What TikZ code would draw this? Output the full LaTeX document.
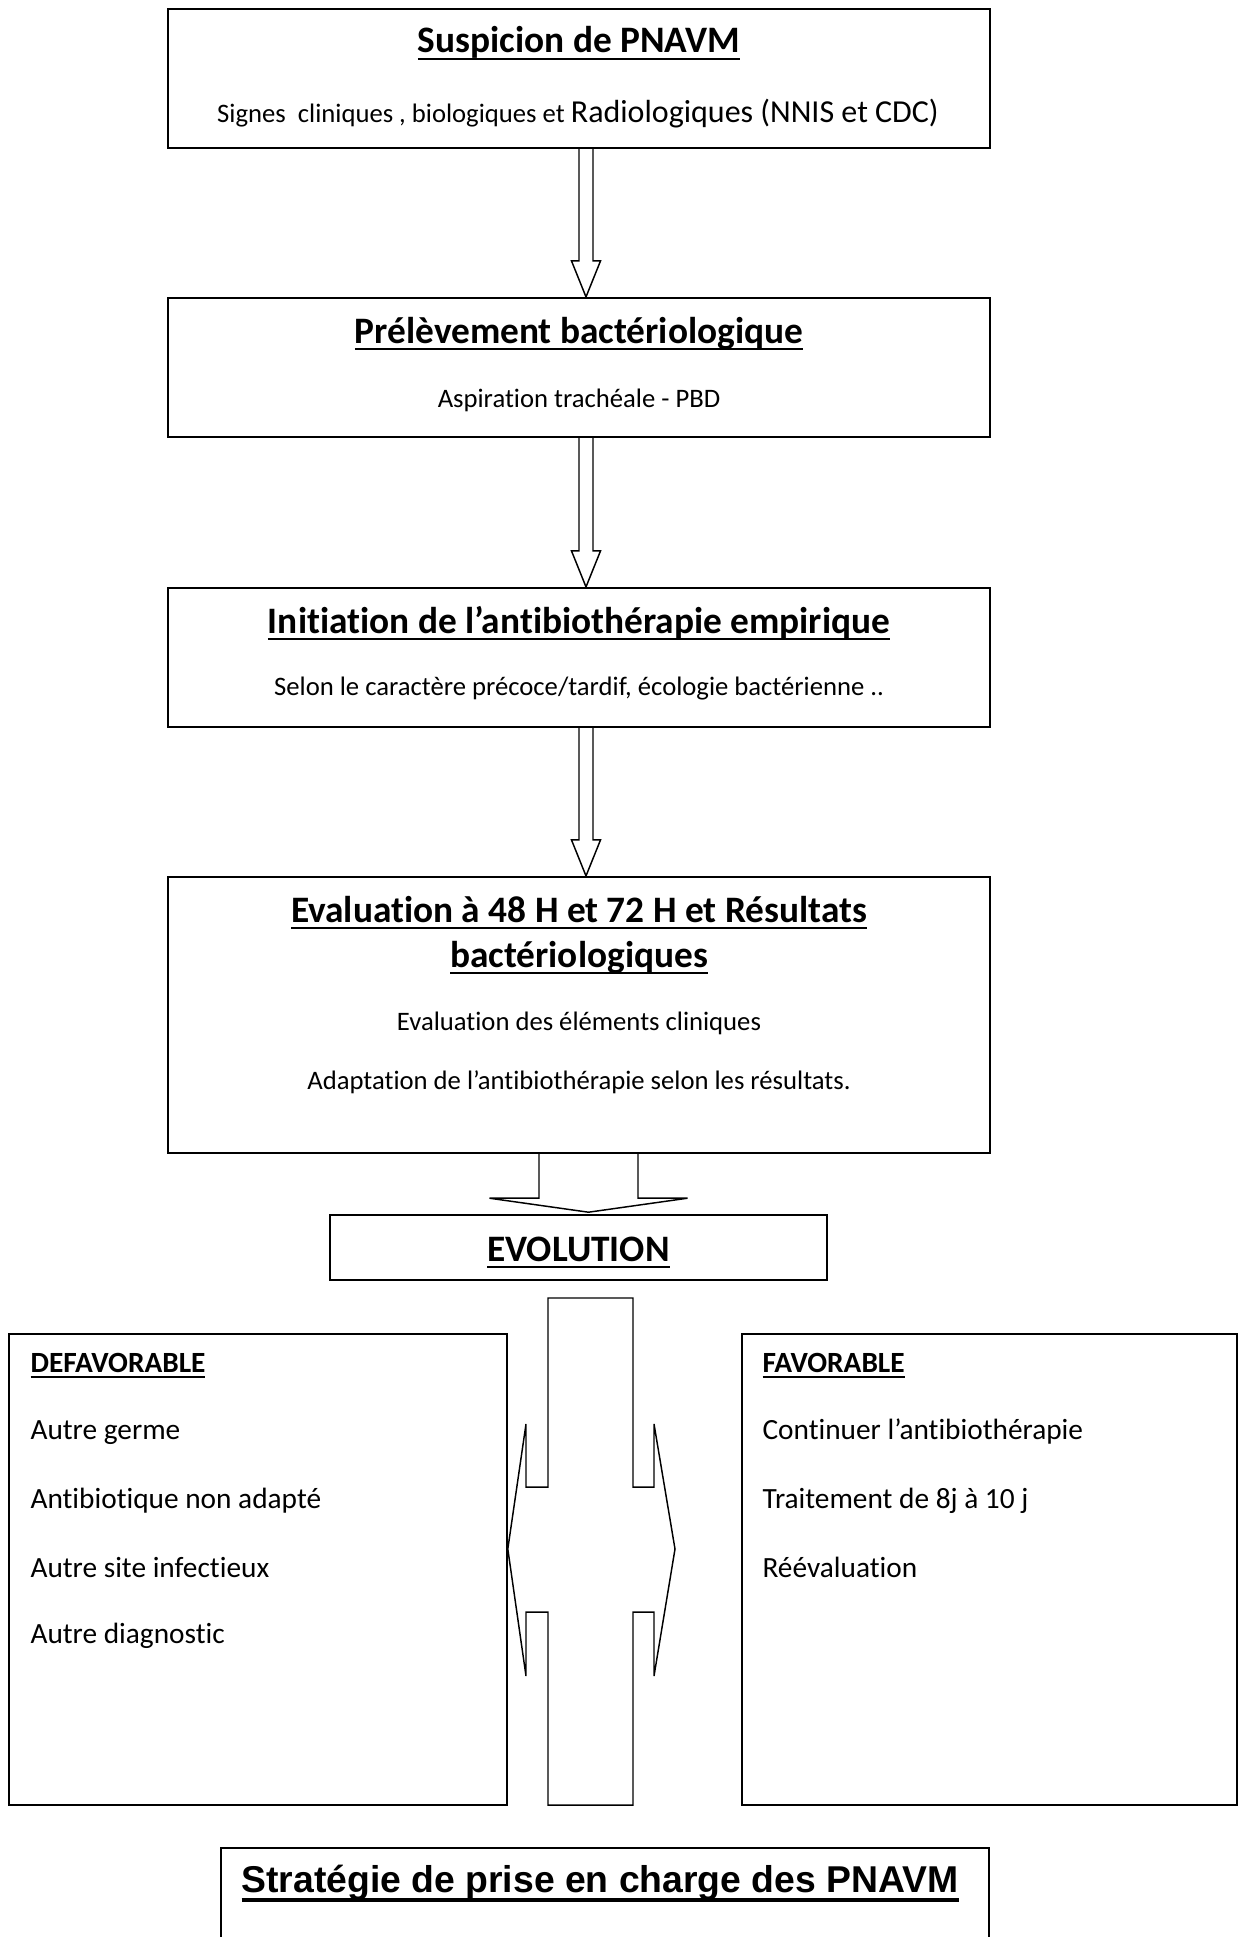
\documentclass[tikz,border=0pt]{standalone}
\usepackage{fontspec}
\setmainfont{Carlito}[Ligatures=NoCommon]
\newfontfamily\arialfont{Liberation Sans}
\usetikzlibrary{calc,fit}
\newcommand{\myul}[3]{\sbox0{#3}\rlap{\rule[-#1]{\wd0}{#2}}\usebox0}
\newcommand{\ulc}[1]{\myul{0.19em}{0.055em}{#1}}
\newcommand{\ula}[1]{\myul{0.27em}{0.1em}{#1}}
\begin{document}
\begin{tikzpicture}[x=0.375pt,y=-0.375pt,
  mainbox/.style={draw, line width=0.8pt, inner sep=0pt},
  subbox/.style={draw, line width=0.6pt, inner sep=0pt},
  blk/.style={draw, line width=0.55pt, line join=miter},
  ttl/.style={anchor=base, inner sep=0pt, font=\bfseries\fontsize{14}{17}\selectfont},
  sub/.style={anchor=base, inner sep=0pt, font=\fontsize{10}{12}\selectfont},
  item/.style={anchor=base west, inner sep=0pt, font=\fontsize{11}{13}\selectfont},
  itemttl/.style={anchor=base west, inner sep=0pt, font=\bfseries\fontsize{11}{13}\selectfont}]
\useasboundingbox (0,0) rectangle (1239,1937);

% boxes
\node[mainbox, fit={(168,9) (990,148)}] (b1) {};
\node[mainbox, fit={(168,298) (990,437)}] (b2) {};
\node[mainbox, fit={(168,588) (990,727)}] (b3) {};
\node[mainbox, fit={(168,877) (990,1153)}] (b4) {};
\node[subbox, fit={(330,1215) (827,1280)}] (evo) {};
\node[subbox, fit={(9,1334) (507,1805)}] (def) {};
\node[subbox, fit={(742,1334) (1237,1805)}] (fav) {};
\node[subbox, fit={(221,1848) (989,1990)}] (strat) {};

% texts
\node[ttl] (t1) at (579,53) {\ulc{Suspicion de PNAVM}};
\node[anchor=base, inner sep=0pt] (s1) at (578,122) {\fontsize{10}{12}\selectfont Signes~ cliniques , biologiques et \fontsize{12}{14}\selectfont Radiologiques (NNIS et CDC)};

\node[ttl] (t2) at (579,343) {\ulc{Prélèvement bactériologique}};
\node[sub] (s2) at (579,407) {Aspiration trachéale - PBD};

\node[ttl] (t3) at (579,633) {\ulc{Initiation de l’antibiothérapie empirique}};
\node[sub] (s3) at (579,695) {Selon le caractère précoce/tardif, écologie bactérienne ..};

\node[ttl] (t4a) at (579,922) {\ulc{Evaluation à 48 H et 72 H et Résultats}};
\node[ttl] (t4b) at (579,967) {\ulc{bactériologiques}};
\node[sub] (s4a) at (579,1030) {Evaluation des éléments cliniques};
\node[sub] (s4b) at (579,1089) {Adaptation de l’antibiothérapie selon les résultats.};

\node[ttl] (tevo) at (578.5,1261) {\ulc{EVOLUTION}};

\node[itemttl] (td) at (30,1372) {\ulc{DEFAVORABLE}};
\node[item] (d1) at (30,1439) {Autre germe};
\node[item] (d2) at (30,1508) {Antibiotique non adapté};
\node[item] (d3) at (30,1577) {Autre site infectieux};
\node[item] (d4) at (30,1643) {Autre diagnostic};

\node[itemttl] (tf) at (762,1372) {\ulc{FAVORABLE}};
\node[item] (f1) at (762,1439) {Continuer l’antibiothérapie};
\node[item] (f2) at (762,1508) {Traitement de 8j à 10 j};
\node[item] (f3) at (762,1577) {Réévaluation};

\node[anchor=base west, inner sep=0pt, font=\arialfont\bfseries\fontsize{14}{17}\selectfont] (ts) at (241,1892) {\ula{Stratégie de prise en charge des PNAVM}};

% block arrows between the boxes
\coordinate (c1) at (586,0);
\draw[blk] ($(c1|-b1.south)+(-7,0)$) -- ($(c1|-b2.north)+(-7,-36)$) -- ++(-7.5,0) -- (c1|-b2.north)
  -- ($(c1|-b2.north)+(14.5,-36)$) -- ++(-7.5,0) -- ($(c1|-b1.south)+(7,0)$);
\draw[blk] ($(c1|-b2.south)+(-7,0)$) -- ($(c1|-b3.north)+(-7,-36)$) -- ++(-7.5,0) -- (c1|-b3.north)
  -- ($(c1|-b3.north)+(14.5,-36)$) -- ++(-7.5,0) -- ($(c1|-b2.south)+(7,0)$);
\draw[blk] ($(c1|-b3.south)+(-7,0)$) -- ($(c1|-b4.north)+(-7,-36)$) -- ++(-7.5,0) -- (c1|-b4.north)
  -- ($(c1|-b4.north)+(14.5,-36)$) -- ++(-7.5,0) -- ($(c1|-b3.south)+(7,0)$);

\coordinate (c2) at (588.5,0);
\draw[blk] ($(c2|-b4.south)+(-49.5,0)$) -- ($(c2|-evo.north)+(-49.5,-16)$) -- ++(-49.5,0)
  -- ($(c2|-evo.north)+(0,-2)$) -- ($(c2|-evo.north)+(99,-16)$) -- ++(-49.5,0) -- ($(c2|-b4.south)+(49.5,0)$);

% double arrow between DEFAVORABLE and FAVORABLE
\coordinate (ltip) at (def.east |- 0,1549);
\coordinate (rtip) at (675,1549);
\draw[blk] (548,1298) -- (633,1298) -- (633,1487) -- (654,1487) -- (654,1424) -- (rtip)
  -- (654,1676) -- (654,1612) -- (633,1612) -- (633,1805) -- (548,1805) -- (548,1612)
  -- (526,1612) -- (526,1676) -- (ltip) -- (526,1424) -- (526,1487) -- (548,1487) -- cycle;
\end{tikzpicture}
\end{document}
